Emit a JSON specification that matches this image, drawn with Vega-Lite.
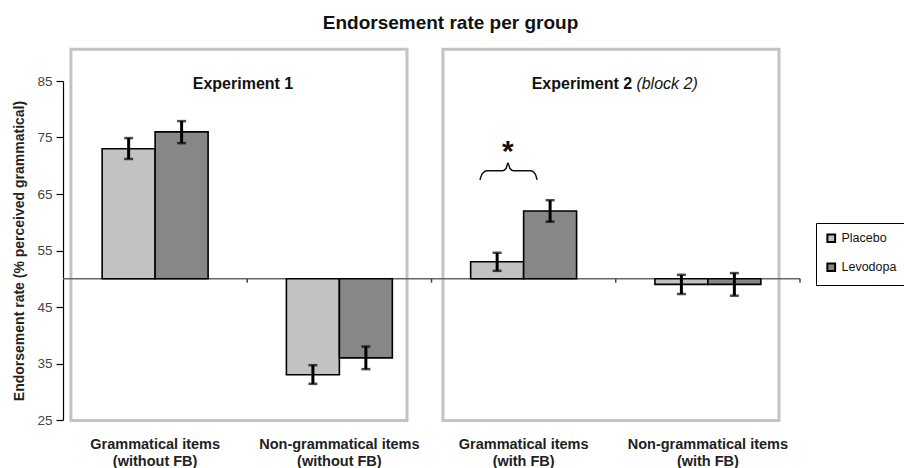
{
  "$schema": "https://vega.github.io/schema/vega-lite/v6.json",
  "width": 737,
  "height": 339,
  "autosize": {"type": "none"},
  "padding": {"left": 63, "top": 81, "right": 104, "bottom": 48},
  "background": "white",
  "config": {"font": "Liberation Sans", "view": {"stroke": null}},
  "title": {"text": "Endorsement rate per group", "fontSize": 19, "fontWeight": "bold", "color": "#111", "anchor": "middle", "dx": 19, "offset": 15},
  "datasets": {
    "bars": [
      {"category": "Grammatical items (without FB)", "group": "Placebo", "value": 73, "lo": 71.2, "hi": 74.9},
      {"category": "Grammatical items (without FB)", "group": "Levodopa", "value": 76, "lo": 74.0, "hi": 77.9},
      {"category": "Non-grammatical items (without FB)", "group": "Placebo", "value": 33, "lo": 31.4, "hi": 34.7},
      {"category": "Non-grammatical items (without FB)", "group": "Levodopa", "value": 36, "lo": 34.0, "hi": 38.0},
      {"category": "Grammatical items (with FB)", "group": "Placebo", "value": 53, "lo": 51.4, "hi": 54.6},
      {"category": "Grammatical items (with FB)", "group": "Levodopa", "value": 62, "lo": 60.1, "hi": 63.9},
      {"category": "Non-grammatical items (with FB)", "group": "Placebo", "value": 49, "lo": 47.3, "hi": 50.7},
      {"category": "Non-grammatical items (with FB)", "group": "Levodopa", "value": 49, "lo": 47.0, "hi": 51.0}
    ],
    "panels": [
      {"panel": "Experiment 1", "x0": 0.043, "x1": 1.867, "y0": 24.9, "y1": 90.6},
      {"panel": "Experiment 2", "x0": 2.062, "x1": 3.886, "y0": 24.9, "y1": 90.6}
    ],
    "boundaries": [{"b": 1}, {"b": 2}, {"b": 3}, {"b": 4}],
    "brace": [
      {"bx": 2.263, "by": 67.5},
      {"bx": 2.276, "by": 68.6},
      {"bx": 2.300, "by": 69.1},
      {"bx": 2.385, "by": 69.1},
      {"bx": 2.404, "by": 69.5},
      {"bx": 2.415, "by": 70.5},
      {"bx": 2.426, "by": 69.5},
      {"bx": 2.445, "by": 69.1},
      {"bx": 2.540, "by": 69.1},
      {"bx": 2.562, "by": 68.6},
      {"bx": 2.573, "by": 67.5}
    ]
  },
  "layer": [
    {
      "data": {"name": "panels"},
      "mark": {"type": "rect", "fill": null, "filled": false, "stroke": "#c3c3c3", "strokeWidth": 3},
      "encoding": {
        "x": {"field": "x0", "type": "quantitative", "scale": {"domain": [0, 4], "nice": false, "zero": false}, "axis": null},
        "x2": {"field": "x1"},
        "y": {"field": "y0", "type": "quantitative", "scale": {"domain": [25, 85], "nice": false, "zero": false}},
        "y2": {"field": "y1"}
      }
    },
    {
      "layer": [
        {
          "data": {"values": [{"base": 50}]},
          "mark": {"type": "rule", "color": "#666", "strokeWidth": 1.5},
          "encoding": {"y": {"field": "base", "type": "quantitative", "scale": {"domain": [25, 85], "nice": false, "zero": false}}}
        },
        {
          "data": {"name": "boundaries"},
          "mark": {"type": "rule", "color": "#444", "strokeWidth": 1.5},
          "encoding": {
            "x": {"field": "b", "type": "quantitative", "scale": {"domain": [0, 4], "nice": false, "zero": false}, "axis": null},
            "y": {"datum": 50, "type": "quantitative", "scale": {"domain": [25, 85], "nice": false, "zero": false}},
            "y2": {"datum": 49.3}
          }
        },
        {
          "data": {"name": "brace"},
          "mark": {"type": "line", "color": "#111", "strokeWidth": 1.5, "interpolate": "monotone"},
          "encoding": {
            "x": {"field": "bx", "type": "quantitative", "scale": {"domain": [0, 4], "nice": false, "zero": false}, "axis": null},
            "y": {"field": "by", "type": "quantitative", "scale": {"domain": [25, 85], "nice": false, "zero": false}}
          }
        },
        {
          "data": {"values": [{"tx": 2.415, "ty": 73.4, "t": "*"}]},
          "mark": {"type": "text", "fontSize": 30, "fontWeight": "bold", "color": "#111", "baseline": "middle", "dy": 5},
          "encoding": {
            "x": {"field": "tx", "type": "quantitative", "scale": {"domain": [0, 4], "nice": false, "zero": false}, "axis": null},
            "y": {"field": "ty", "type": "quantitative", "scale": {"domain": [25, 85], "nice": false, "zero": false}},
            "text": {"field": "t"}
          }
        },
        {
          "data": {"values": [{"tx": 0.977, "ty": 84.5, "t": "Experiment 1", "a": "center"}, {"tx": 3.089, "ty": 84.5, "t": "Experiment 2", "a": "right"}]},
          "mark": {"type": "text", "fontSize": 16, "fontWeight": "bold", "color": "#111", "baseline": "middle", "align": {"expr": "datum.a"}},
          "encoding": {
            "x": {"field": "tx", "type": "quantitative", "scale": {"domain": [0, 4], "nice": false, "zero": false}, "axis": null},
            "y": {"field": "ty", "type": "quantitative", "scale": {"domain": [25, 85], "nice": false, "zero": false}},
            "text": {"field": "t"}
          }
        },
        {
          "data": {"values": [{"tx": 3.112, "ty": 84.5, "t": "(block 2)"}]},
          "mark": {"type": "text", "fontSize": 16, "fontStyle": "italic", "color": "#111", "baseline": "middle", "align": "left"},
          "encoding": {
            "x": {"field": "tx", "type": "quantitative", "scale": {"domain": [0, 4], "nice": false, "zero": false}, "axis": null},
            "y": {"field": "ty", "type": "quantitative", "scale": {"domain": [25, 85], "nice": false, "zero": false}},
            "text": {"field": "t"}
          }
        }
      ]
    },
    {
      "data": {"name": "bars"},
      "encoding": {
        "x": {
          "field": "category", "type": "nominal",
          "scale": {"domain": ["Grammatical items (without FB)", "Non-grammatical items (without FB)", "Grammatical items (with FB)", "Non-grammatical items (with FB)"], "paddingInner": 0.425, "paddingOuter": 0.2125},
          "axis": {"title": null, "domain": false, "ticks": false, "labelAngle": 0, "labelPadding": 24, "labelFontSize": 14.5, "labelFontWeight": "bold", "labelColor": "#222", "labelLineHeight": 17, "labelBaseline": "middle",
                   "labelExpr": "[slice(datum.label, 0, indexof(datum.label, ' (')), slice(datum.label, indexof(datum.label, ' (') + 1)]"}
        },
        "xOffset": {"field": "group", "type": "nominal", "scale": {"domain": ["Placebo", "Levodopa"], "paddingInner": 0, "paddingOuter": 0}}
      },
      "layer": [
        {
          "mark": {"type": "bar", "stroke": "#000", "strokeWidth": 1.6},
          "encoding": {
            "y": {"field": "value", "type": "quantitative", "scale": {"domain": [25, 85], "nice": false, "zero": false},
                  "axis": {"values": [25, 35, 45, 55, 65, 75, 85], "grid": false, "tickSize": 7, "tickColor": "#000", "domainColor": "#000", "domainWidth": 1.2, "tickWidth": 1.2, "labelFontSize": 13.5, "labelColor": "#444", "labelPadding": 4,
                           "title": "Endorsement rate (% perceived grammatical)", "titleFontSize": 14, "titleFontWeight": "bold", "titleColor": "#222", "titlePadding": 10}},
            "y2": {"datum": 50},
            "color": {"field": "group", "type": "nominal", "scale": {"domain": ["Placebo", "Levodopa"], "range": ["#c2c2c2", "#878787"]},
                      "legend": {"title": null, "orient": "none", "legendX": 753, "legendY": 142, "strokeColor": "#000", "fillColor": "#fff", "padding": 9, "symbolType": "square", "symbolSize": 60, "symbolStrokeColor": "#000", "symbolStrokeWidth": 2, "labelFontSize": 12.5, "labelColor": "#111", "rowPadding": 12, "labelOffset": 4}}
          }
        },
        {
          "mark": {"type": "rule", "color": "#000", "strokeWidth": 3},
          "encoding": {
            "y": {"field": "lo", "type": "quantitative", "scale": {"domain": [25, 85], "nice": false, "zero": false}},
            "y2": {"field": "hi"}
          }
        },
        {
          "mark": {"type": "tick", "color": "#000", "thickness": 2.5, "size": 9, "orient": "horizontal"},
          "encoding": {"y": {"field": "lo", "type": "quantitative", "scale": {"domain": [25, 85], "nice": false, "zero": false}}}
        },
        {
          "mark": {"type": "tick", "color": "#000", "thickness": 2.5, "size": 9, "orient": "horizontal"},
          "encoding": {"y": {"field": "hi", "type": "quantitative", "scale": {"domain": [25, 85], "nice": false, "zero": false}}}
        }
      ]
    }
  ],
  "resolve": {"scale": {"x": "independent"}}
}
